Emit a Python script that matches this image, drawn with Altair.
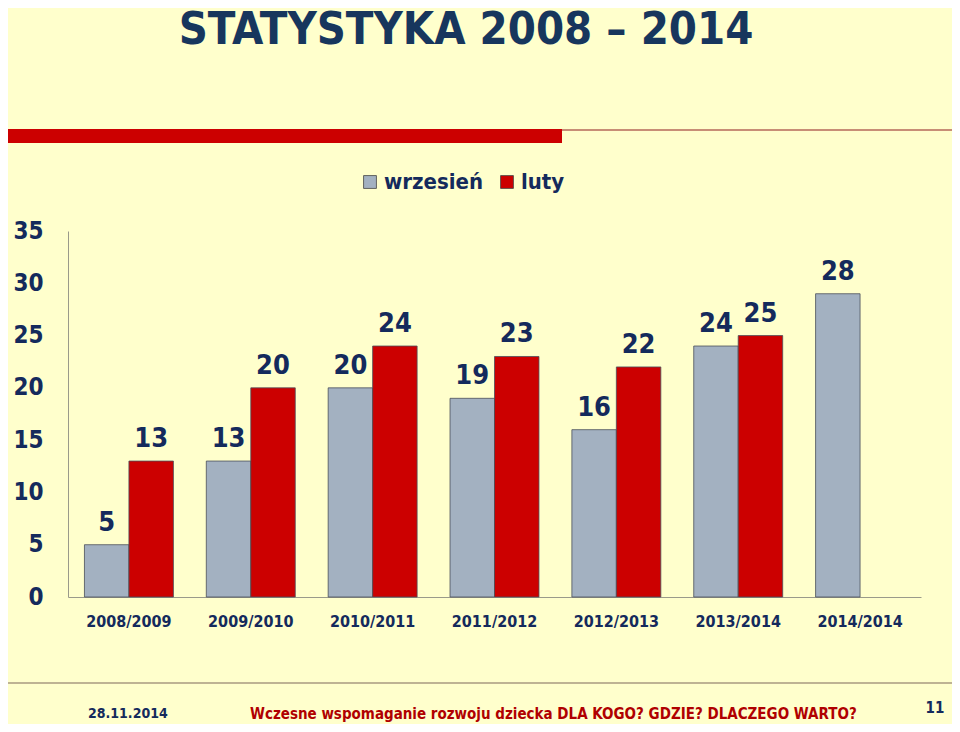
import altair as alt
import pandas as pd

categories = ["2008/2009", "2009/2010", "2010/2011", "2011/2012", "2012/2013", "2013/2014", "2014/2014"]
# bar heights as drawn (the last grey bar reaches ~29 on the axis although it is labelled 28)
wrzesien = [5, 13, 20, 19, 16, 24, 29]
luty = [13, 20, 24, 23, 22, 25, None]
# value labels as printed above the bars
wrzesien_labels = ["5", "13", "20", "19", "16", "24", "28"]
luty_labels = ["13", "20", "24", "23", "22", "25", None]
series = ["wrzesień", "luty"]
y_ticks = [0, 5, 10, 15, 20, 25, 30, 35]

rows = []
for c, w, l, wl, ll in zip(categories, wrzesien, luty, wrzesien_labels, luty_labels):
    rows.append({"rok": c, "seria": series[0], "wartosc": w, "etykieta": wl})
    if l is not None:
        rows.append({"rok": c, "seria": series[1], "wartosc": l, "etykieta": ll})
df = pd.DataFrame(rows)

FONT = "DejaVu Sans Condensed, Liberation Sans, sans-serif"
NAVY = "#142a5c"
BG = "#FFFFCC"
W, H = 853, 366

xenc = alt.X("rok:N", sort=categories, title=None,
             scale=alt.Scale(paddingInner=0.27, paddingOuter=0.135),
             axis=alt.Axis(labelAngle=0, labelFontSize=16, labelFont=FONT, labelFontWeight="bold",
                           labelColor=NAVY, ticks=False, labelPadding=16, domainColor="#9a9a8a"))
yenc = alt.Y("wartosc:Q", title=None,
             scale=alt.Scale(domain=[0, 35], nice=False),
             axis=alt.Axis(values=y_ticks, grid=False, ticks=False, labelPadding=25,
                           labelFontSize=24, labelFont=FONT, labelFontWeight="bold",
                           labelColor=NAVY, domainColor="#9a9a8a"))
color = alt.Color("seria:N", sort=series,
                  scale=alt.Scale(domain=series, range=["#a3b1c1", "#cc0000"]),
                  legend=alt.Legend(title=None, orient="none", legendX=291, legendY=-60,
                                    direction="horizontal", symbolType="square", symbolSize=165,
                                    symbolStrokeWidth=0.8, symbolStrokeColor="#444444",
                                    labelFontSize=22, labelFont=FONT, labelFontWeight="bold",
                                    labelColor=NAVY, columnPadding=12, labelOffset=3))
xoff = alt.XOffset("seria:N", sort=series, scale=alt.Scale(domain=series))

bars = alt.Chart(df).mark_bar(stroke="#4a4f5a", strokeWidth=0.8).encode(
    x=xenc, y=yenc, color=color, xOffset=xoff)

labels = alt.Chart(df).mark_text(fontSize=27, font=FONT, fontWeight="bold", color=NAVY,
                                 baseline="alphabetic", dy=-14).encode(
    x=alt.X("rok:N", sort=categories), y="wartosc:Q", xOffset=xoff, text="etykieta:N")

deco = pd.DataFrame({"k": [0]})
red_band = alt.Chart(deco).mark_rect(color="#cc0000").encode(
    x=alt.value(-60), x2=alt.value(494), y=alt.value(-102), y2=alt.value(-88))
thin_line = alt.Chart(deco).mark_rule(color="#b5695a", strokeWidth=1.5).encode(
    x=alt.value(494), x2=alt.value(890), y=alt.value(-101))
foot_line = alt.Chart(deco).mark_rule(color="#a89a80", strokeWidth=1.5).encode(
    x=alt.value(-60), x2=alt.value(887), y=alt.value(452))

title = alt.Chart(deco).mark_text(text="STATYSTYKA   2008 – 2014", font=FONT, fontWeight="bold",
                                  fontSize=45, color="#17365d", align="center",
                                  baseline="alphabetic").encode(
    x=alt.value(398), y=alt.value(-187))
foot_date = alt.Chart(deco).mark_text(text="28.11.2014", font=FONT, fontWeight="bold",
                                      fontSize=14, color=NAVY, align="left").encode(
    x=alt.value(20), y=alt.value(483))
foot_text = alt.Chart(deco).mark_text(text="Wczesne wspomaganie rozwoju dziecka DLA KOGO? GDZIE?  DLACZEGO WARTO?",
                                      font=FONT, fontWeight="bold", fontSize=15, color="#b00000",
                                      align="left").encode(
    x=alt.value(182), y=alt.value(483))
foot_num = alt.Chart(deco).mark_text(text="11", font=FONT, fontWeight="bold", fontSize=15,
                                     color=NAVY, align="center").encode(
    x=alt.value(867), y=alt.value(477))

chart = alt.layer(bars, labels, red_band, thin_line, foot_line, title, foot_date, foot_text, foot_num).properties(
    width=W, height=H,
    autosize=alt.AutoSizeParams(type="none"),
    padding={"left": 60, "top": 223, "right": 31, "bottom": 127},
    background=BG,
).configure_view(stroke=None)

chart.save("out.html", embed_options={"renderer": "svg", "actions": False})
